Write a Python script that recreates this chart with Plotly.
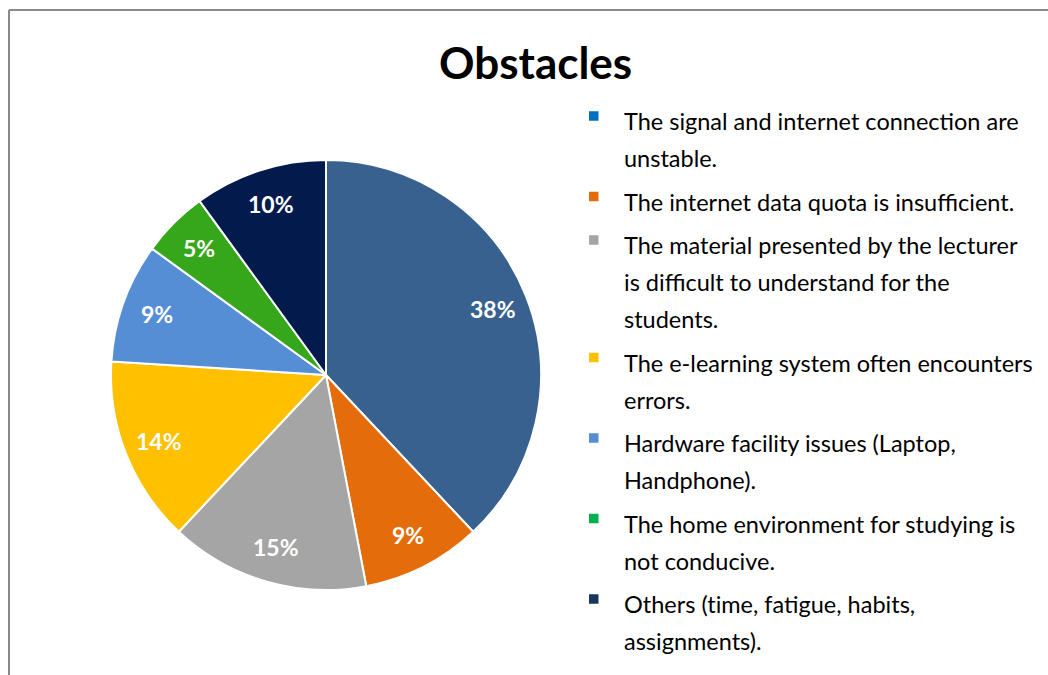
import numpy as np
import plotly.graph_objects as go

W, H = 1048, 675

# ---- data ----
legend_lines = [
    ["The signal and internet connection are", "unstable."],
    ["The internet data quota is insufficient."],
    ["The material presented by the lecturer", "is difficult to understand for the", "students."],
    ["The e-learning system often encounters", "errors."],
    ["Hardware facility issues (Laptop,", "Handphone)."],
    ["The home environment for studying is", "not conducive."],
    ["Others (t\u200cime, fatigue, habits,", "assignments)."],
]
labels = [" ".join(l).replace("\u200c", "") for l in legend_lines]
values = [38, 9, 15, 14, 9, 5, 10]
slice_colors = ["#38618F", "#E46C0A", "#A5A5A5", "#FFC000", "#558ED5", "#36A71A", "#021B4C"]
legend_colors = ["#0070C0", "#E36C09", "#A6A6A6", "#FFC000", "#558ED5", "#00B050", "#17375E"]
title_text = "Obstacles"

FONT = "Lato"


def px_x(x):
    return x / W


def px_y(y):
    return 1 - y / H


# pie geometry (pixels)
CX, CY, R = 326, 375, 215

fig = go.Figure()
fig.add_trace(go.Pie(
    labels=labels,
    values=values,
    sort=False,
    direction="clockwise",
    rotation=0,
    marker=dict(colors=slice_colors, line=dict(color="white", width=2)),
    textinfo="none",
    showlegend=False,
    hoverinfo="label+percent",
    domain=dict(x=[px_x(CX - R), px_x(CX + R)], y=[px_y(CY + R), px_y(CY - R)]),
))

annotations = []
shapes = []

# percentage labels placed along each slice's mid-angle (Excel-like placement)
vals = np.array(values, dtype=float)
fracs = vals / vals.sum()
mids = (np.cumsum(fracs) - fracs / 2) * 2 * np.pi  # clockwise from 12 o'clock
for f, a in zip(fracs, mids):
    lx = CX + 0.835 * R * np.sin(a)
    ly = CY - 0.835 * R * np.cos(a)
    annotations.append(dict(
        text="<b>%d%%</b>" % round(f * 100), x=px_x(lx), y=px_y(ly),
        xref="paper", yref="paper", xanchor="center", yanchor="middle",
        showarrow=False, font=dict(family=FONT, size=23, color="white"),
    ))

# title
annotations.append(dict(
    text="<b>" + title_text + "</b>", x=px_x(535), y=px_y(62), xref="paper", yref="paper",
    xanchor="center", yanchor="middle", showarrow=False,
    font=dict(family=FONT, size=44, color="black"),
))

# custom legend
y = 121.0
line_step = 37.0
para_gap = 6.5
for lines, col in zip(legend_lines, legend_colors):
    my = y - 5
    shapes.append(dict(type="rect", xref="paper", yref="paper",
                       x0=px_x(589), x1=px_x(598.5), y0=px_y(my + 4.75), y1=px_y(my - 4.75),
                       fillcolor=col, line=dict(width=0)))
    for ln in lines:
        annotations.append(dict(
            text=ln, x=px_x(622), y=px_y(y), xref="paper", yref="paper",
            xanchor="left", yanchor="middle", showarrow=False,
            font=dict(family=FONT, size=23.5, color="black"),
        ))
        y += line_step
    y += para_gap

# chart area border (left and top edges visible)
shapes.append(dict(type="line", xref="paper", yref="paper",
                   x0=px_x(9), x1=px_x(9), y0=px_y(10), y1=px_y(H + 5),
                   line=dict(color="#898989", width=2)))
shapes.append(dict(type="line", xref="paper", yref="paper",
                   x0=px_x(9), x1=px_x(W + 5), y0=px_y(10), y1=px_y(10),
                   line=dict(color="#898989", width=2)))

fig.update_layout(
    width=W, height=H,
    margin=dict(l=0, r=0, t=0, b=0),
    paper_bgcolor="white",
    plot_bgcolor="white",
    annotations=annotations,
    shapes=shapes,
    font=dict(family=FONT),
)

fig.write_html("out.html")
